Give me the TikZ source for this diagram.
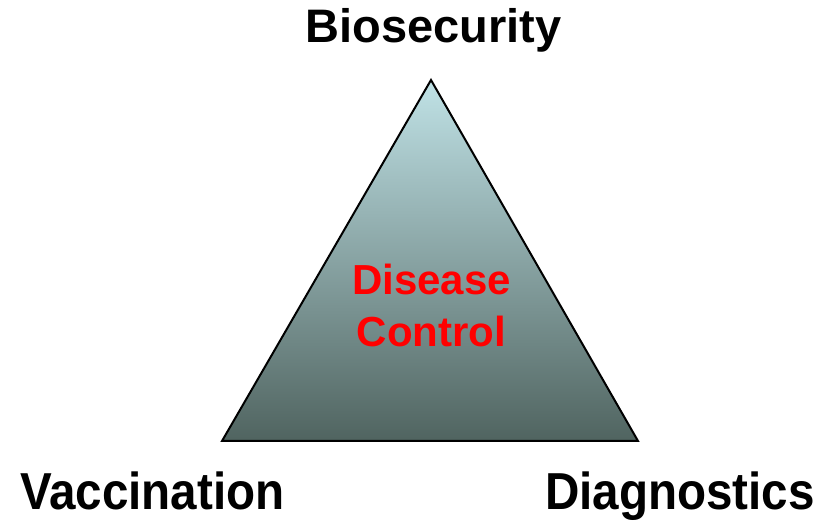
\documentclass[tikz,border=0pt]{standalone}
\usepackage{fontspec}
\setmainfont{Liberation Sans}
\begin{document}
\begin{tikzpicture}[x=1pt,y=1pt,
  label/.style={font=\bfseries\fontsize{47}{56}\selectfont, text=black, inner sep=0pt},
  cornerlabel/.style={font=\bfseries\fontsize{52}{60}\selectfont, text=black, inner sep=0pt, xscale=0.915},
  centerlabel/.style={font=\bfseries\fontsize{42}{52}\selectfont, text=red, inner sep=0pt}]
  \definecolor{toptone}{RGB}{192,226,230}
  \definecolor{midtone}{RGB}{140,172,172}
  \definecolor{bottomtone}{RGB}{80,100,96}
  \useasboundingbox (0,0) rectangle (833,521);
  % triangle corners
  \coordinate (apex) at (431,441);
  \coordinate (left) at (222,80);
  \coordinate (right) at (638,80);
  \shade[top color=toptone, middle color=midtone, bottom color=bottomtone]
    (apex) -- (right) -- (left) -- cycle;
  \draw[line width=2pt, line join=miter] (apex) -- (right) -- (left) -- cycle;
  % labels
  \node[label, anchor=base] (bio) at (433.5,478) {Biosecurity};
  \node[cornerlabel, anchor=base west] (vac) at (20,11) {Vaccination};
  \node[cornerlabel, anchor=base east] (diag) at (815,11) {Diagnostics};
  \node[centerlabel, anchor=base] (dis) at (431.5,226) {Disease};
  \node[centerlabel, anchor=base] (ctl) at (431.5,174) {Control};
\end{tikzpicture}
\end{document}
